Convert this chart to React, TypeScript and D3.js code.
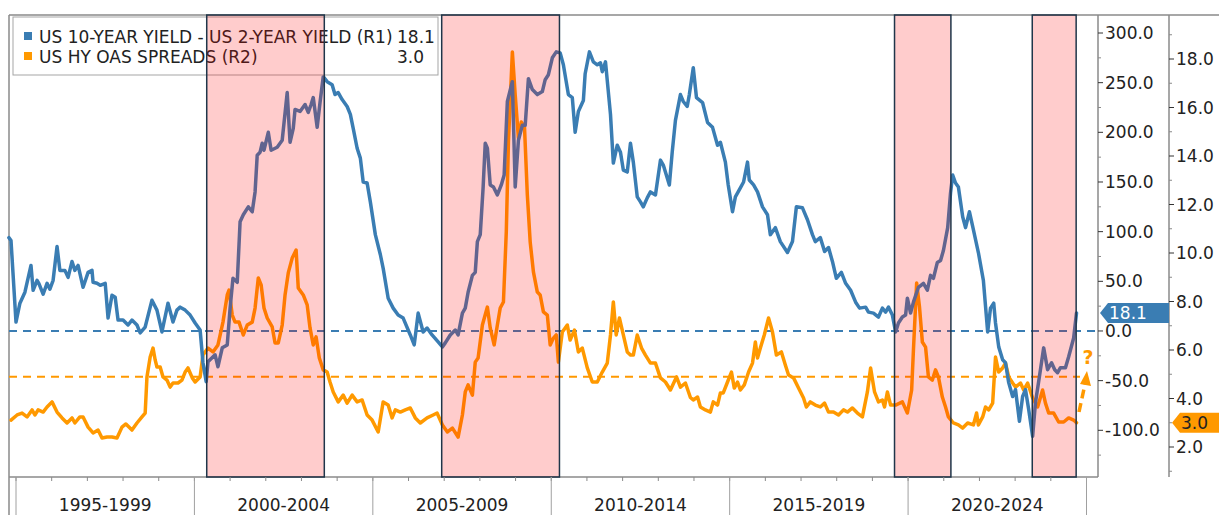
import React from 'react';
import * as d3 from 'd3';

// US 10Y - 2Y spread (bp), [decimal year, value]
const curveSpread: [number, number][] = [
  [1994.80, 94], [1994.86, 91], [1995.00, 9], [1995.11, 28], [1995.25, 39], [1995.42, 66], [1995.48, 41],
  [1995.59, 51], [1995.64, 48], [1995.76, 37], [1995.87, 48], [1995.95, 42], [1996.04, 51], [1996.15, 85],
  [1996.23, 61], [1996.37, 61], [1996.46, 54], [1996.57, 70], [1996.65, 61], [1996.74, 66], [1996.88, 44],
  [1997.02, 59], [1997.13, 61], [1997.16, 49], [1997.27, 48], [1997.36, 46], [1997.50, 48], [1997.58, 13],
  [1997.69, 36], [1997.78, 34], [1997.86, 11], [1998.00, 11], [1998.14, 6], [1998.25, 11], [1998.39, 6],
  [1998.48, -2], [1998.62, 4], [1998.81, 31], [1998.95, 21], [1999.09, -1], [1999.26, 28], [1999.40, 9],
  [1999.51, 21], [1999.60, 24], [1999.74, 21], [1999.88, 16], [2000.02, 8], [2000.16, 1], [2000.24, -32],
  [2000.33, -51], [2000.38, -31], [2000.58, -24], [2000.66, -36], [2000.78, -17], [2000.92, -14], [2001.00, 23],
  [2001.08, 53], [2001.20, 49], [2001.28, 110], [2001.37, 117], [2001.51, 125], [2001.62, 120], [2001.70, 140],
  [2001.76, 177], [2001.84, 180], [2001.90, 189], [2001.95, 182], [2002.07, 200], [2002.15, 182], [2002.32, 185],
  [2002.46, 192], [2002.60, 240], [2002.68, 190], [2002.77, 204], [2002.82, 223], [2002.96, 221], [2003.10, 228],
  [2003.19, 220], [2003.27, 228], [2003.33, 235], [2003.44, 205], [2003.52, 230], [2003.61, 256], [2003.72, 251],
  [2003.86, 248], [2003.94, 238], [2004.03, 240], [2004.14, 233], [2004.28, 226], [2004.37, 218], [2004.45, 204],
  [2004.56, 184], [2004.65, 174], [2004.73, 150], [2004.84, 149], [2004.93, 130], [2005.07, 97], [2005.21, 77],
  [2005.29, 63], [2005.43, 33], [2005.57, 23], [2005.71, 16], [2005.85, 13], [2006.05, -4], [2006.16, -14],
  [2006.27, 18], [2006.41, -1], [2006.52, 3], [2006.66, -4], [2006.83, -11], [2006.95, -16], [2007.03, -12],
  [2007.17, -4], [2007.31, 1], [2007.39, -4], [2007.51, 18], [2007.59, 23], [2007.67, 39], [2007.79, 56],
  [2007.87, 59], [2007.93, 90], [2008.01, 97], [2008.09, 144], [2008.15, 189], [2008.21, 184], [2008.29, 147],
  [2008.38, 145], [2008.49, 137], [2008.60, 147], [2008.68, 157], [2008.77, 231], [2008.91, 251], [2008.99, 145],
  [2009.08, 192], [2009.19, 207], [2009.27, 207], [2009.36, 254], [2009.47, 243], [2009.61, 238], [2009.75, 241],
  [2009.83, 253], [2009.92, 258], [2010.03, 275], [2010.14, 281], [2010.25, 280], [2010.34, 268], [2010.48, 238],
  [2010.59, 235], [2010.67, 200], [2010.76, 221], [2010.90, 232], [2010.95, 259], [2011.07, 281], [2011.18, 271],
  [2011.29, 268], [2011.38, 270], [2011.43, 261], [2011.52, 271], [2011.66, 218], [2011.74, 169], [2011.85, 187],
  [2011.94, 180], [2012.02, 162], [2012.13, 160], [2012.22, 189], [2012.30, 170], [2012.41, 135], [2012.50, 130],
  [2012.58, 125], [2012.69, 134], [2012.78, 140], [2012.92, 137], [2013.06, 172], [2013.14, 167], [2013.31, 147],
  [2013.39, 180], [2013.48, 212], [2013.62, 238], [2013.70, 231], [2013.81, 226], [2013.87, 238], [2013.98, 265],
  [2014.07, 235], [2014.24, 230], [2014.38, 210], [2014.52, 205], [2014.66, 187], [2014.74, 190], [2014.88, 170],
  [2014.96, 147], [2015.08, 120], [2015.16, 135], [2015.30, 144], [2015.39, 150], [2015.50, 170], [2015.55, 152],
  [2015.67, 147], [2015.78, 140], [2015.92, 125], [2016.06, 117], [2016.14, 97], [2016.28, 104], [2016.42, 90],
  [2016.62, 79], [2016.76, 90], [2016.87, 125], [2017.04, 124], [2017.18, 112], [2017.32, 97], [2017.40, 90],
  [2017.54, 94], [2017.66, 80], [2017.77, 84], [2017.88, 70], [2017.99, 53], [2018.13, 59], [2018.25, 48],
  [2018.39, 41], [2018.53, 29], [2018.64, 23], [2018.81, 24], [2018.89, 19], [2019.03, 18], [2019.17, 14],
  [2019.28, 23], [2019.37, 19], [2019.45, 24], [2019.56, 16], [2019.65, -1], [2019.73, 8], [2019.84, 14],
  [2019.93, 16], [2019.98, 33], [2020.07, 18], [2020.15, 29], [2020.29, 44], [2020.43, 48], [2020.54, 41],
  [2020.63, 56], [2020.71, 53], [2020.82, 69], [2020.91, 71], [2020.99, 81], [2021.11, 104], [2021.19, 139],
  [2021.25, 157], [2021.33, 149], [2021.41, 145], [2021.53, 115], [2021.61, 104], [2021.72, 120], [2021.83, 102],
  [2021.97, 79], [2022.11, 51], [2022.23, -1], [2022.31, 23], [2022.40, 28], [2022.45, 8], [2022.54, -16],
  [2022.65, -29], [2022.73, -32], [2022.82, -52], [2022.93, -66], [2023.01, -59], [2023.12, -91], [2023.21, -66],
  [2023.29, -59], [2023.38, -79], [2023.49, -106], [2023.57, -72], [2023.68, -46], [2023.80, -17], [2023.91, -39],
  [2024.02, -32], [2024.11, -39], [2024.19, -42], [2024.27, -37], [2024.41, -37], [2024.50, -26], [2024.64, -7],
  [2024.72, 18.1],
];

// US HY OAS spread (%), [decimal year, value]
const hySpread: [number, number][] = [
  [1994.86, 3.11], [1995.03, 3.32], [1995.17, 3.40], [1995.31, 3.24], [1995.45, 3.53], [1995.53, 3.32],
  [1995.62, 3.53], [1995.76, 3.44], [1995.87, 3.65], [1996.01, 3.86], [1996.15, 3.44], [1996.29, 3.20],
  [1996.43, 2.99], [1996.57, 3.20], [1996.65, 2.99], [1996.79, 3.24], [1996.88, 3.24], [1997.02, 2.82],
  [1997.16, 2.58], [1997.30, 2.70], [1997.41, 2.37], [1997.55, 2.41], [1997.69, 2.41], [1997.83, 2.37],
  [1997.97, 2.82], [1998.08, 2.95], [1998.25, 2.70], [1998.39, 2.99], [1998.53, 3.24], [1998.62, 3.40],
  [1998.67, 4.89], [1998.76, 5.71], [1998.84, 6.08], [1998.90, 5.59], [1998.95, 5.30], [1999.04, 5.30],
  [1999.12, 4.89], [1999.23, 4.76], [1999.32, 4.47], [1999.40, 4.64], [1999.54, 4.64], [1999.65, 4.76],
  [1999.74, 5.09], [1999.82, 5.26], [1999.94, 4.85], [2000.02, 4.68], [2000.16, 4.89], [2000.24, 5.79],
  [2000.38, 6.08], [2000.52, 5.92], [2000.66, 6.21], [2000.80, 7.15], [2000.92, 8.27], [2000.97, 8.47],
  [2001.06, 7.44], [2001.14, 7.15], [2001.25, 7.15], [2001.37, 6.62], [2001.48, 7.03], [2001.62, 7.15],
  [2001.70, 7.73], [2001.79, 8.97], [2001.87, 8.68], [2001.95, 7.73], [2002.04, 7.32], [2002.18, 6.95],
  [2002.26, 6.29], [2002.35, 6.29], [2002.46, 7.03], [2002.54, 8.27], [2002.63, 9.18], [2002.74, 9.79],
  [2002.85, 10.12], [2002.91, 8.56], [2003.05, 8.27], [2003.16, 7.86], [2003.24, 6.91], [2003.33, 6.21],
  [2003.41, 6.54], [2003.50, 5.67], [2003.61, 5.18], [2003.72, 5.09], [2003.80, 4.68], [2003.89, 4.27],
  [2004.03, 3.86], [2004.17, 4.14], [2004.28, 3.81], [2004.42, 4.14], [2004.56, 3.86], [2004.70, 3.94],
  [2004.84, 3.32], [2004.98, 3.11], [2005.15, 2.62], [2005.29, 3.86], [2005.43, 3.73], [2005.54, 3.20],
  [2005.63, 3.53], [2005.77, 3.44], [2005.91, 3.53], [2006.05, 3.61], [2006.19, 3.20], [2006.33, 2.99],
  [2006.52, 3.20], [2006.69, 3.32], [2006.80, 3.40], [2006.95, 2.91], [2007.09, 2.62], [2007.23, 2.78],
  [2007.39, 2.41], [2007.51, 3.32], [2007.59, 4.27], [2007.67, 4.56], [2007.79, 4.14], [2007.87, 5.50],
  [2007.95, 5.67], [2008.07, 7.03], [2008.21, 7.77], [2008.29, 6.91], [2008.40, 6.21], [2008.49, 7.03],
  [2008.57, 7.73], [2008.66, 7.98], [2008.74, 10.87], [2008.80, 14.58], [2008.91, 18.29], [2008.99, 16.52],
  [2009.08, 14.74], [2009.16, 15.40], [2009.25, 15.20], [2009.33, 12.39], [2009.41, 10.45], [2009.50, 9.22],
  [2009.61, 8.39], [2009.69, 8.27], [2009.78, 7.57], [2009.89, 7.44], [2009.97, 6.21], [2010.06, 6.49],
  [2010.14, 6.62], [2010.20, 5.50], [2010.31, 6.74], [2010.45, 7.03], [2010.53, 6.41], [2010.65, 6.82],
  [2010.76, 5.92], [2010.87, 6.08], [2011.01, 5.26], [2011.15, 4.68], [2011.29, 4.68], [2011.43, 5.09],
  [2011.57, 5.46], [2011.66, 6.62], [2011.74, 7.98], [2011.82, 6.62], [2011.91, 7.32], [2012.02, 6.62],
  [2012.13, 5.92], [2012.22, 5.79], [2012.30, 5.79], [2012.41, 6.62], [2012.53, 6.08], [2012.64, 5.79],
  [2012.78, 5.46], [2012.92, 5.46], [2013.06, 4.85], [2013.20, 4.68], [2013.34, 4.35], [2013.51, 4.89],
  [2013.62, 4.47], [2013.76, 4.64], [2013.90, 4.04], [2013.98, 3.94], [2014.10, 4.06], [2014.18, 3.65],
  [2014.32, 3.53], [2014.46, 3.44], [2014.54, 3.86], [2014.66, 3.73], [2014.74, 4.23], [2014.82, 4.23],
  [2014.94, 4.68], [2015.05, 5.09], [2015.13, 4.43], [2015.22, 4.68], [2015.30, 4.35], [2015.41, 4.56],
  [2015.53, 5.09], [2015.64, 5.46], [2015.72, 6.33], [2015.78, 5.67], [2015.86, 6.08], [2015.97, 6.62],
  [2016.09, 7.32], [2016.20, 6.74], [2016.31, 5.79], [2016.45, 5.92], [2016.56, 5.38], [2016.65, 4.97],
  [2016.79, 4.85], [2016.93, 4.43], [2017.07, 4.02], [2017.15, 3.65], [2017.26, 3.86], [2017.40, 3.73],
  [2017.54, 3.65], [2017.66, 3.81], [2017.77, 3.44], [2017.91, 3.44], [2018.05, 3.32], [2018.19, 3.53],
  [2018.30, 3.44], [2018.44, 3.61], [2018.58, 3.40], [2018.72, 3.24], [2018.86, 4.27], [2018.95, 5.26],
  [2019.06, 4.27], [2019.17, 3.86], [2019.28, 3.94], [2019.34, 3.65], [2019.42, 4.27], [2019.51, 3.73],
  [2019.65, 3.73], [2019.84, 3.86], [2019.98, 3.40], [2020.10, 4.35], [2020.15, 6.00], [2020.24, 8.76],
  [2020.32, 7.77], [2020.40, 6.33], [2020.49, 6.12], [2020.57, 4.89], [2020.68, 4.76], [2020.77, 5.18],
  [2020.85, 4.89], [2020.96, 4.06], [2021.05, 3.65], [2021.13, 3.24], [2021.27, 2.99], [2021.41, 2.91],
  [2021.53, 2.78], [2021.67, 2.99], [2021.83, 2.91], [2021.92, 3.40], [2021.97, 2.91], [2022.09, 3.24],
  [2022.17, 3.65], [2022.26, 3.53], [2022.37, 3.81], [2022.45, 5.71], [2022.54, 5.09], [2022.65, 5.26],
  [2022.73, 5.46], [2022.82, 4.89], [2022.93, 4.64], [2023.01, 4.47], [2023.15, 4.64], [2023.24, 4.35],
  [2023.35, 4.64], [2023.49, 4.02], [2023.63, 3.65], [2023.77, 4.35], [2023.85, 3.81], [2023.94, 3.40],
  [2024.08, 3.40], [2024.22, 3.03], [2024.36, 3.03], [2024.50, 3.20], [2024.64, 3.11], [2024.72, 3.0],
];

// shaded windows [start, end] in decimal years
const shadedWindows: [number, number][] = [
  [2000.345, 2003.64],
  [2006.93, 2010.23],
  [2019.62, 2021.2],
  [2023.48, 2024.71],
];

const periodStarts = [1995, 2000, 2005, 2010, 2015, 2020];
const periodLabels = ['1995-1999', '2000-2004', '2005-2009', '2010-2014', '2015-2019', '2020-2024'];
const r1Ticks = [-100, -50, 0, 50, 100, 150, 200, 250, 300];
const r2Ticks = [2, 4, 6, 8, 10, 12, 14, 16, 18];
const curveLast = 18.1;
const hyLast = 3.0;
const hyAverage = 4.9;

const BLUE = '#3a7db3';
const ORANGE = '#ff9900';
const AXIS = '#8a8a8a';
const FONT = 'DejaVu Sans, Verdana, sans-serif';

export default function App() {
  const left = 9, top = 15, plotRight = 1098, plotBottom = 477, r2X = 1169;

  const x = d3.scaleLinear().domain([1995, 2025]).range([16, 1086.5]);
  const y1 = d3.scaleLinear().domain([-100, 300]).range([430.3, 33]);
  const y2 = d3.scaleLinear().domain([2, 18]).range([447, 59]);

  const line1 = d3.line<[number, number]>().x(d => x(d[0])).y(d => y1(d[1]));
  const line2 = d3.line<[number, number]>().x(d => x(d[0])).y(d => y2(d[1]));

  const r1Minor = d3.range(-125, 300, 50);
  const r2Minor = d3.range(1, 20, 2);
  const years = d3.range(1995, 2025);

  const tagY1 = y1(curveLast);
  const tagY2 = y2(hyLast);

  return (
    <svg width={1219} height={515} style={{ position: 'absolute', left: 0, top: 0 }} fontFamily={FONT}>
      <rect x={0} y={0} width={1219} height={515} fill="#fff" />

      {/* frame */}
      <line x1={left} x2={1219} y1={top} y2={top} stroke={AXIS} strokeWidth={1.5} />
      <line x1={left} x2={left} y1={top} y2={515} stroke={AXIS} strokeWidth={1.5} />
      <line x1={left} x2={plotRight} y1={plotBottom} y2={plotBottom} stroke={AXIS} strokeWidth={1.5} />
      <line x1={plotRight} x2={plotRight} y1={top} y2={plotBottom} stroke={AXIS} strokeWidth={1.5} />
      <line x1={r2X} x2={r2X} y1={top} y2={plotBottom} stroke={AXIS} strokeWidth={1.5} />

      {/* reference dashed lines */}
      <line x1={left} x2={plotRight} y1={y1(0)} y2={y1(0)} stroke={BLUE} strokeWidth={2} strokeDasharray="8,6" />
      <line x1={left} x2={1080} y1={y2(hyAverage)} y2={y2(hyAverage)} stroke={ORANGE} strokeWidth={2} strokeDasharray="8,6" />

      {/* series */}
      <path d={line2(hySpread) ?? ''} fill="none" stroke={ORANGE} strokeWidth={3.5} strokeLinejoin="round" strokeLinecap="round" />
      <path d={line1(curveSpread) ?? ''} fill="none" stroke={BLUE} strokeWidth={3.5} strokeLinejoin="round" strokeLinecap="round" />

      {/* legend */}
      <rect x={13} y={17} width={425} height={58} fill="#fff" stroke="#a5a5a5" strokeWidth={1} />
      <rect x={24} y={32} width={8} height={8} fill={BLUE} />
      <rect x={24} y={52} width={8} height={8} fill={ORANGE} />
      <text x={39} y={43} fontSize={17} fill="#222">US 10-YEAR YIELD - US 2-YEAR YIELD (R1)</text>
      <text x={397} y={43} fontSize={17} fill="#222">{curveLast.toFixed(1)}</text>
      <text x={39} y={63} fontSize={17} fill="#222">US HY OAS SPREADS (R2)</text>
      <text x={397} y={63} fontSize={17} fill="#222">{hyLast.toFixed(1)}</text>

      {/* shaded windows */}
      {shadedWindows.map(([s, e], i) => (
        <rect key={i} x={x(s)} y={top} width={x(e) - x(s)} height={plotBottom - top}
          fill="rgb(255,0,0)" fillOpacity={0.2} stroke="#1f364a" strokeWidth={1.5} />
      ))}

      {/* x axis */}
      {years.map(yr => (
        <line key={yr} x1={x(yr)} x2={x(yr)} y1={plotBottom} y2={plotBottom + 4} stroke={AXIS} />
      ))}
      {[...periodStarts, 2025].map(yr => (
        <line key={'s' + yr} x1={x(yr)} x2={x(yr)} y1={plotBottom} y2={515} stroke="#a0a0a0" strokeWidth={1} />
      ))}
      {periodStarts.map((yr, i) => (
        <text key={'l' + yr} x={x(yr + 2.5)} y={511} fontSize={17} textAnchor="middle" fill="#222">
          {periodLabels[i]}
        </text>
      ))}

      {/* R1 axis */}
      {r1Minor.map(v => (
        <line key={'m1' + v} x1={plotRight} x2={plotRight + 3} y1={y1(v)} y2={y1(v)} stroke={AXIS} />
      ))}
      {r1Ticks.map(v => (
        <g key={'t1' + v}>
          <line x1={plotRight} x2={plotRight + 5} y1={y1(v)} y2={y1(v)} stroke="#333" />
          <text x={plotRight + 7} y={y1(v)} dy="0.36em" fontSize={17} fill="#222">{v.toFixed(1)}</text>
        </g>
      ))}

      {/* R2 axis */}
      {r2Minor.map(v => (
        <line key={'m2' + v} x1={r2X} x2={r2X + 3} y1={y2(v)} y2={y2(v)} stroke={AXIS} />
      ))}
      {r2Ticks.map(v => (
        <g key={'t2' + v}>
          <line x1={r2X} x2={r2X + 5} y1={y2(v)} y2={y2(v)} stroke="#333" />
          <text x={r2X + 7} y={y2(v)} dy="0.36em" fontSize={17} fill="#222">{v.toFixed(1)}</text>
        </g>
      ))}

      {/* last value tags */}
      <polygon
        points={`${plotRight + 2},${tagY1} ${plotRight + 10},${tagY1 - 10} ${r2X},${tagY1 - 10} ${r2X},${tagY1 + 10} ${plotRight + 10},${tagY1 + 10}`}
        fill={BLUE} />
      <text x={plotRight + 11} y={tagY1} dy="0.36em" fontSize={17} fill="#fff">{curveLast.toFixed(1)}</text>
      <polygon
        points={`${r2X + 3},${tagY2} ${r2X + 11},${tagY2 - 10} 1219,${tagY2 - 10} 1219,${tagY2 + 10} ${r2X + 11},${tagY2 + 10}`}
        fill={ORANGE} />
      <text x={r2X + 12} y={tagY2} dy="0.36em" fontSize={17} fill="#222">{hyLast.toFixed(1)}</text>

      {/* question arrow */}
      <line x1={1079} y1={412} x2={1085} y2={384} stroke={ORANGE} strokeWidth={3.5} strokeDasharray="9,5" />
      <polygon points="1087,371 1080,384 1091,386" fill={ORANGE} />
      <text x={1088} y={364} fontSize={19} fontWeight="bold" textAnchor="middle" fill={ORANGE}>?</text>
    </svg>
  );
}
